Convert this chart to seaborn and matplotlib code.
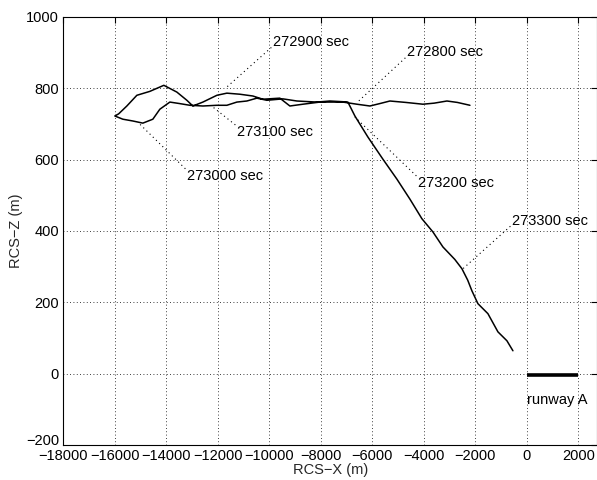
import matplotlib
matplotlib.use("Agg")
import matplotlib.pyplot as plt
import matplotlib.transforms as mtransforms
import seaborn as sns
import pandas as pd

# Flight path (RCS-X, RCS-Z), in flight order
path_x = [-2213, -2700, -3106, -3600, -4038, -4700, -5320, -5700, -6096, -6600, -6873,
          -7145, -7534, -8038, -8698, -9203, -9592, -10252, -10640, -11145, -11650,
          -12037, -12580, -12969, -13202, -13591, -14096, -14639, -15144, -15532,
          -15850, -15998,
          -15688, -15300, -14911, -14523, -14251, -13862, -13500, -13086, -12580,
          -12037, -11650, -11261, -10873, -10485, -10097, -9475, -8931, -8155,
          -7650, -7145, -6951,
          -6679, -6174, -5592, -5048, -4543, -4077, -3650, -3262, -2800, -2524,
          -2300, -2136, -1903, -1515, -1126, -777, -544]
path_z = [752, 760, 764, 758, 755, 760, 764, 757, 750, 755, 758,
          761, 761, 761, 755, 750, 772, 769, 778, 783, 786,
          780, 761, 750, 766, 789, 808, 791, 780, 750,
          728, 722,
          713, 708, 702, 713, 741, 761, 757, 752, 750,
          752, 752, 761, 764, 772, 766, 770, 764, 761,
          764, 762, 761,
          722, 663, 601, 545, 489, 434, 397, 355, 320, 294,
          262, 232, 196, 168, 117, 92, 64]

# Time annotations: label, text position, point on path
ann_labels = ["272800 sec", "272900 sec", "273000 sec", "273100 sec", "273200 sec", "273300 sec"]
ann_text_x = [-4660, -9863, -13200, -11260, -4232, -582]
ann_text_y = [900, 929, 554, 677, 534, 428]
ann_lead_y = [885, 914, 574, 697, 554, 413]
ann_pt_x = [-6562, -11700, -15027, -12190, -6679, -2485]
ann_pt_y = [762, 800, 699, 747, 719, 294]

runway_x = [0, 2000]
runway_z = [-3, -3]

xticks = list(range(-18000, 2001, 2000))
yticks = list(range(-200, 1001, 200))

sns.set_theme(style="white")
plt.rcParams["font.family"] = ["Liberation Sans", "DejaVu Sans"]
plt.rcParams["font.size"] = 10.5

fig = plt.figure(figsize=(5.97, 4.8), dpi=100)
ax = fig.add_axes([0.106, 0.073, 0.894, 0.892])

df = pd.DataFrame({"x": path_x, "z": path_z})
sns.lineplot(data=df, x="x", y="z", sort=False, estimator=None, color="black",
             linewidth=1.1, ax=ax)
ax.plot(runway_x, runway_z, color="black", linewidth=2.6, solid_capstyle="butt")
ax.text(0, -75, "runway A", ha="left", va="center", fontsize=10.5, color="black")

for lab, tx, ty, ly, px, py in zip(ann_labels, ann_text_x, ann_text_y, ann_lead_y,
                                   ann_pt_x, ann_pt_y):
    ax.plot([tx - 60, px], [ly, py], color="black", linewidth=0.8,
            linestyle=(0, (1, 3)))
    ax.text(tx, ty, lab, ha="left", va="center", fontsize=10.5, color="black")

ax.set_xlim(-18000, 2720)
ax.set_ylim(-200, 1000)
ax.set_xticks(xticks)
ax.set_yticks(yticks)
ax.grid(True, color="black", linestyle=(0, (1, 3)), linewidth=0.6)
ax.tick_params(direction="in", length=4, width=0.8, top=True, right=True,
               labelsize=10.5, colors="black", pad=3)
for s in ax.spines.values():
    s.set_color("black")
    s.set_linewidth(0.8)
ax.set_xlabel("RCS\u2212X (m)", fontsize=10.5, labelpad=0)
ax.set_ylabel("RCS\u2212Z (m)", fontsize=10.5, labelpad=2)

# lift the lowest y tick label slightly, as in the reference
fig.canvas.draw()
lab0 = ax.get_yticklabels()[0]
lab0.set_transform(lab0.get_transform() +
                   mtransforms.ScaledTranslation(0, 4 / 72, fig.dpi_scale_trans))

fig.savefig("out.png", dpi=100)
